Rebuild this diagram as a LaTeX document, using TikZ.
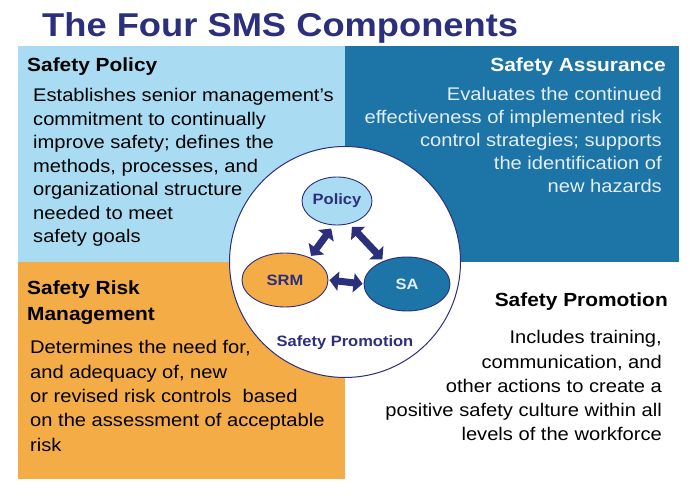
\documentclass[tikz,border=0pt]{standalone}
\usepackage{fontspec}
\setmainfont{Liberation Sans}[FakeStretch=1.1]
\usetikzlibrary{arrows.meta, shapes.geometric}
\definecolor{navy}    {HTML}{2C2F7C}
\definecolor{skyblue} {HTML}{A9DCF2}
\definecolor{seablue} {HTML}{1C74A7}
\definecolor{amber}   {HTML}{F4AC47}
\definecolor{paleink} {HTML}{E4EEF6}

\begin{document}
\begin{tikzpicture}[x=1pt, y=-1pt,
    head/.style={font=\bfseries\fontsize{19}{25}\selectfont, inner sep=0},
    body/.style={font=\fontsize{18.3}{23.5}\selectfont, inner sep=0},
    oval/.style={ellipse, draw=navy, line width=0.9pt, minimum width=86pt, minimum height=54pt, inner sep=0, font=\bfseries\fontsize{15}{18}\selectfont},
    dbl/.style={draw=navy, line width=7pt, {Triangle[length=9pt, width=19pt]}-{Triangle[length=9pt, width=19pt]}}]
      \useasboundingbox (0,0) rectangle (697,502);
      \fill[white] (0,0) rectangle (697,502);

      \node[anchor=base west, inner sep=0, text=navy, font=\bfseries\fontsize{33}{36}\selectfont] (title) at (42,37) {The Four SMS Components};

      \fill[skyblue] (18,46) rectangle (345,262);
      \fill[seablue] (345,46) rectangle (679,262);
      \fill[amber] (18,262) rectangle (345,479);

      % policy
      \node[head, anchor=base west] (polhead) at (27,72) {Safety Policy};
      \node[body, anchor=north west, align=left] (poltext) at (33,88.5)
        {Establishes senior management's\\commitment to continually\\improve safety; defines the\\methods, processes, and\\organizational structure\\needed to meet\\safety goals};

      % assurance
      \node[head, anchor=base east, text=white] (sahead) at (666,72) {Safety Assurance};
      \node[body, anchor=north east, align=right, text=paleink, font=\fontsize{18.3}{23}\selectfont] (satext) at (662,87.5)
        {Evaluates the continued\\effectiveness of implemented risk\\control strategies; supports\\the identification of\\new hazards};

      % risk management
      \node[head, anchor=north west, align=left, font=\bfseries\fontsize{19}{26}\selectfont] (srmhead) at (27,281)
        {Safety Risk\\Management};
      \node[body, anchor=north west, align=left, font=\fontsize{18.3}{24.3}\selectfont] (srmtext) at (30,340.5)
        {Determines the need for,\\and adequacy of, new\\or revised risk controls~ based\\on the assessment of acceptable\\risk};

      % promotion
      \node[head, anchor=base east] (sphead) at (668,307) {Safety Promotion};
      \node[body, anchor=north east, align=right, font=\fontsize{18.3}{24.2}\selectfont] (sptext) at (662,330.5)
        {Includes training,\\communication, and\\other actions to create a\\positive safety culture within all\\levels of the workforce};

      \node[circle, draw=navy, line width=1pt, fill=white, minimum size=231pt, inner sep=0] (ring) at (345,262) {};
      \node[oval, fill=skyblue, text=navy, minimum width=70pt, minimum height=48pt] (pol) at (337,201) {Policy};
      \node[oval, fill=amber, text=navy] (srm) at (285,280) {SRM};
      \node[oval, fill=seablue, text=paleink] (sa) at (407,284) {SA};
      \node[anchor=base, inner sep=0, text=navy, font=\bfseries\fontsize{15}{18}\selectfont] (spring) at (345,347) {Safety Promotion};

      \draw[dbl, shorten <=4pt, shorten >=2pt] (pol.262) -- (srm.42);
      \draw[dbl, shorten <=4pt, shorten >=2pt] (pol.298) -- (sa.135);
      \draw[dbl, shorten <=1pt, shorten >=1pt] (srm.east) -- (sa.west);
\end{tikzpicture}
\end{document}
